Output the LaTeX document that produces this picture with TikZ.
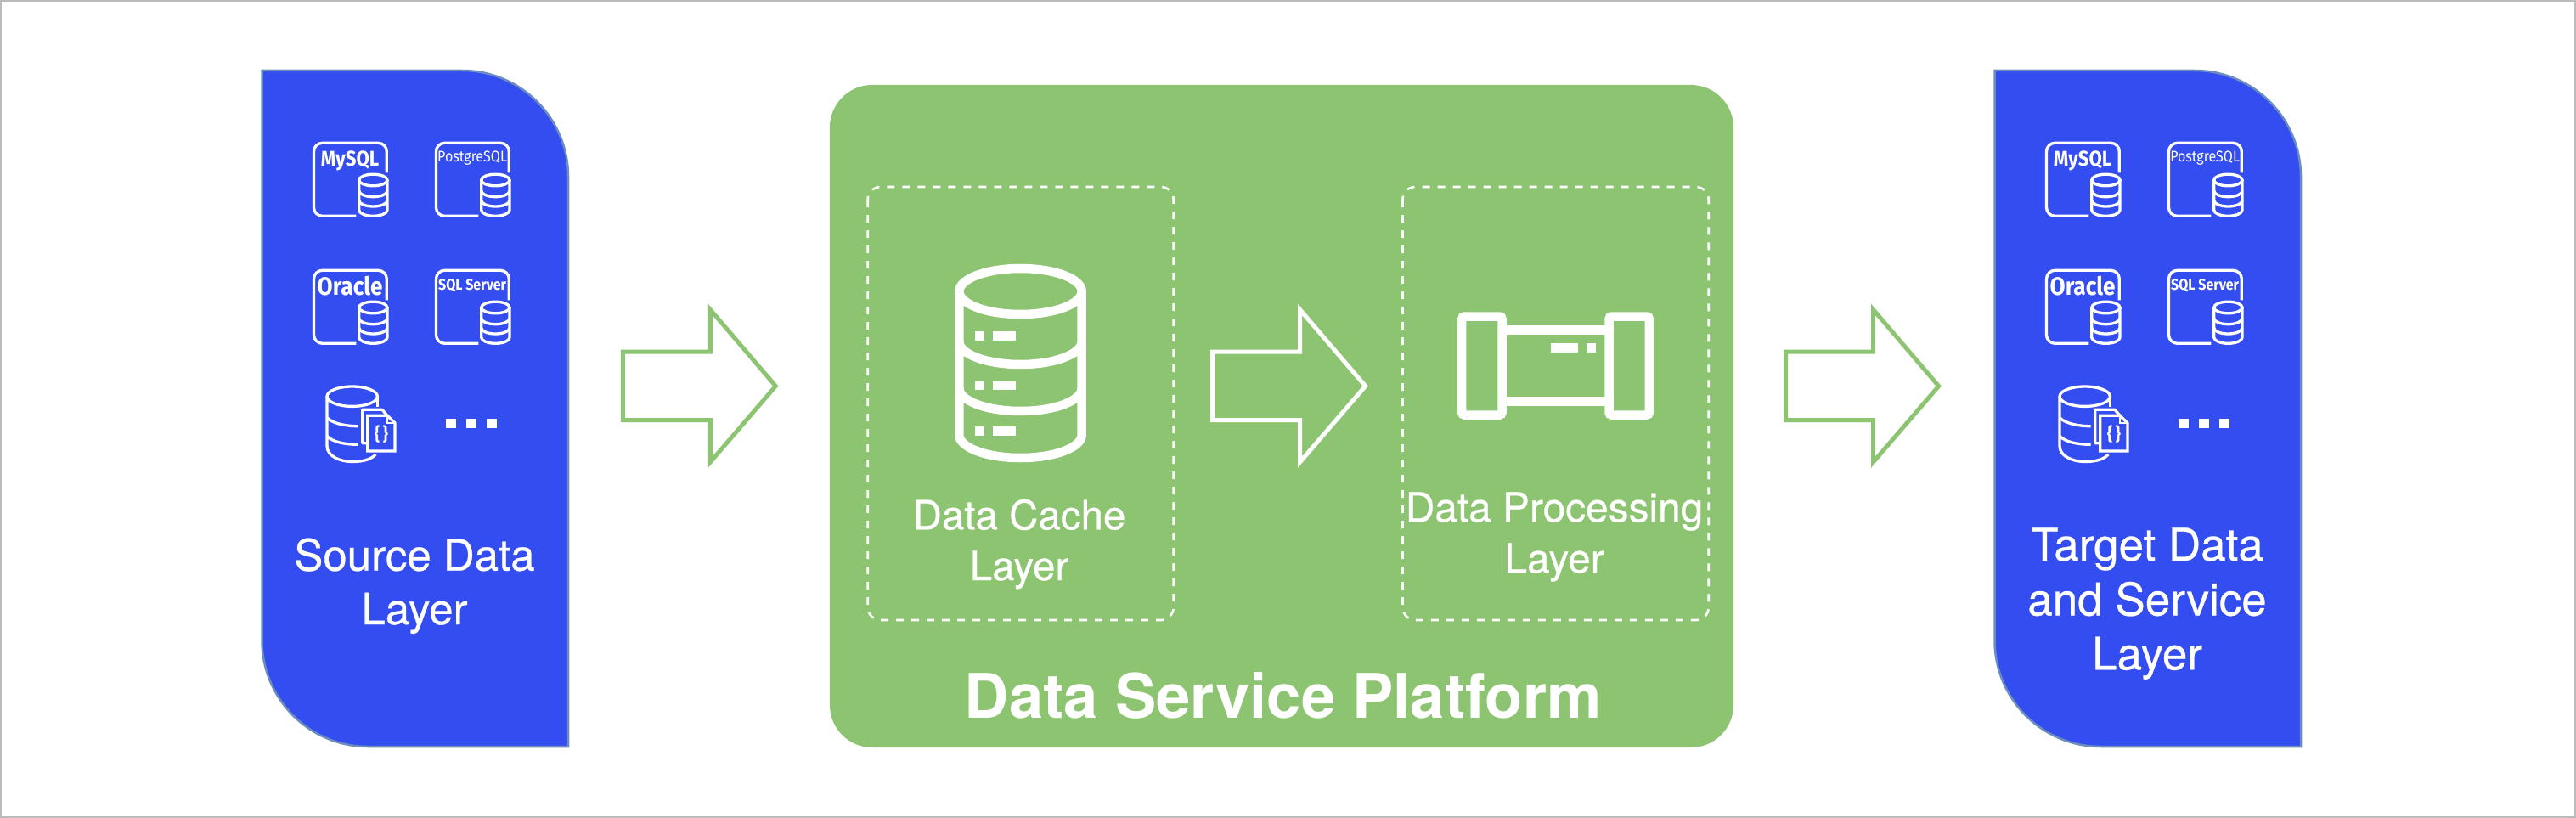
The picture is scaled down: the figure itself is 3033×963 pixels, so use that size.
\documentclass[tikz,border=0pt]{standalone}
\usepackage{fontspec}
\setmainfont[FakeBold=0.5]{TeX Gyre Heros}
\newfontfamily\titlefont{TeX Gyre Heros}
\newfontfamily\firafont[FakeStretch=0.89]{Fira Sans}
\definecolor{panelblue}{HTML}{344DF0}
\definecolor{paneledge}{HTML}{6C8EBF}
\definecolor{platgreen}{HTML}{8DC471}
\definecolor{framegray}{HTML}{BBBBBB}
\tikzset{
  panel/.style={fill=panelblue,draw=paneledge,line width=2.5pt},
  thinicon/.style={draw=white,line width=3.3pt},
  thickicon/.style={draw=white,line width=10.5pt},
  layerbox/.style={draw=white,line width=2.6pt,dash pattern=on 9pt off 9pt,rounded corners=15pt},
  flowarrow/.style={line width=5pt,miter limit=10},
  labeltext/.style={text=white,inner sep=0pt,anchor=base},
  rdstext/.style={text=white,inner sep=0pt,anchor=base,font=\firafont},
}
\newcommand{\rdsicon}[5]{%
  \begin{scope}[shift={(#1,#2)}]
    \draw[thinicon,rounded corners=10pt] (49.8,86) -- (0,86) -- (0,0) -- (85.8,0) -- (85.8,35);
    \draw[thinicon] (69.85,43.7) ellipse [x radius=16.65pt,y radius=6.8pt];
    \draw[thinicon] (53.2,43.7) -- (53.2,79) arc[start angle=180,end angle=360,x radius=16.65pt,y radius=7pt] -- (86.5,43.7);
    \draw[thinicon] (53.2,56.4) arc[start angle=180,end angle=360,x radius=16.65pt,y radius=7pt];
    \draw[thinicon] (53.2,67.7) arc[start angle=180,end angle=360,x radius=16.65pt,y radius=7pt];
    \node[rdstext] (#3) at (42.6,#4) {#5};
  \end{scope}}
\newcommand{\flowarrow}[2]{%
  \draw[flowarrow,draw=#2] (#1,414) -- ++(103,0) -- ++(0,-49.5) -- (#1+180,454.5) -- (#1+103,544) -- ++(0,-49.5) -- (#1,494.5) -- cycle;}
\begin{document}
\begin{tikzpicture}[x=1pt,y=-1pt]
\useasboundingbox (0,0) rectangle (3033,963);
\fill[white] (0,0) rectangle (3033,963);
\draw[framegray,line width=2pt] (1,1) rectangle (3032,962);

% side panels with their database icons
\foreach \dx/\tag in {0/a,2040/b}{
  \begin{scope}[shift={(\dx,0)}]
    \draw[panel] (308.5,83) -- (544,83) arc[start angle=90,end angle=0,radius=125pt] -- (669,879) -- (433.5,879) arc[start angle=270,end angle=180,radius=125pt] -- cycle;
    \rdsicon{369.5}{168.3}{mysql\tag}{27}{\fontsize{25}{25}\selectfont\bfseries MySQL}
    \rdsicon{513.5}{168.3}{postgres\tag}{21.7}{\fontsize{18}{18}\selectfont PostgreSQL}
    \rdsicon{369.5}{318.3}{oracle\tag}{29.4}{\fontsize{29.5}{29.5}\selectfont\bfseries Oracle}
    \rdsicon{513.5}{318.3}{sqlserver\tag}{22.7}{\fontsize{18}{18}\selectfont\bfseries SQL Server}
    % document database icon
    \draw[thinicon] (414.7,466.7) ellipse [x radius=29.7pt,y radius=11.7pt];
    \draw[thinicon] (385,466.7) -- (385,525) .. controls (385,537) and (400,543.5) .. (415,543.5) .. controls (427,543.5) and (437,541) .. (442.3,535);
    \draw[thinicon] (444.4,466.7) -- (444.4,479);
    \draw[thinicon] (385,491.7) .. controls (391,498) and (405,501.7) .. (421.7,501.7);
    \draw[thinicon] (385,513.3) .. controls (391,520) and (405,523.3) .. (421.7,523.3);
    \draw[thinicon,line join=round] (431.5,521.7) -- (426.7,521.7) -- (426.7,482.3) -- (450,482.3) -- (456,489.3);
    \draw[thinicon] (465,531) -- (432.7,531) -- (432.7,489.3) -- (456,489.3) -- (465,498) -- cycle;
    \draw[thinicon,line width=2.6pt] (456,489.3) -- (456,498) -- (465,498);
    \node[rdstext,anchor=center] (braces\tag) at (449,511.5) {\fontsize{21}{21}\selectfont\bfseries \{\,\}};
    % ellipsis squares
    \fill[white] (525,492.7) rectangle (537,504);
    \fill[white] (549,492.7) rectangle (561,504);
    \fill[white] (573,492.7) rectangle (585,504);
  \end{scope}
}
\node[labeltext] (srcA) at (488,671.7) {\fontsize{51}{51}\selectfont Source Data};
\node[labeltext] (srcB) at (488,735) {\fontsize{51}{51}\selectfont Layer};
\node[labeltext] (tgtA) at (2528,660) {\fontsize{53}{53}\selectfont Target Data};
\node[labeltext] (tgtB) at (2528,724.5) {\fontsize{53}{53}\selectfont and Service};
\node[labeltext] (tgtC) at (2528,788.3) {\fontsize{53}{53}\selectfont Layer};

% central platform
\fill[platgreen,rounded corners=50pt] (977,100) rectangle (2041,880);
\draw[layerbox] (1021.7,220) rectangle (1381.7,730);
\draw[layerbox] (1651.5,220) rectangle (2011.7,730);

% cache cylinder
\draw[thickicon] (1201.5,343) ellipse [x radius=72.2pt,y radius=27pt];
\draw[thickicon] (1129.3,343) -- (1129.3,512) arc[start angle=180,end angle=360,x radius=72.2pt,y radius=27pt] -- (1273.7,343);
\draw[thickicon] (1129.3,402) arc[start angle=180,end angle=360,x radius=72.2pt,y radius=27pt];
\draw[thickicon] (1129.3,457) arc[start angle=180,end angle=360,x radius=72.2pt,y radius=27pt];
\foreach \ya/\yb in {390/401,448.7/459.3,502/512.7}{
  \fill[white] (1148,\ya) rectangle (1159,\yb);
  \fill[white] (1169.3,\ya) rectangle (1196.3,\yb);
}

% processing pipe
\draw[thickicon,rounded corners=3pt] (1721.2,372.5) rectangle (1768.5,488.5);
\draw[thickicon,rounded corners=3pt] (1894.5,372.5) rectangle (1941.8,488.5);
\draw[thickicon] (1768.5,388.5) -- (1894.5,388.5);
\draw[thickicon] (1768.5,472.3) -- (1894.5,472.3);
\fill[white] (1826,404) rectangle (1857.7,414.7);
\fill[white] (1868.3,404) rectangle (1879,414.7);

\node[labeltext] (cacheA) at (1200,623.3) {\fontsize{47.5}{47.5}\selectfont Data Cache};
\node[labeltext] (cacheB) at (1200,683) {\fontsize{47.5}{47.5}\selectfont Layer};
\node[labeltext] (procA) at (1830,614.3) {\fontsize{47.8}{47.8}\selectfont Data Processing};
\node[labeltext] (procB) at (1830,674.3) {\fontsize{47.8}{47.8}\selectfont Layer};
\node[labeltext] (platform) at (1510.7,845.7) {\fontsize{72.4}{72.4}\titlefont\selectfont\bfseries Data Service Platform};

% flow arrows
\flowarrow{733.3}{platgreen}
\flowarrow{1427.6}{white}
\flowarrow{2102.6}{platgreen}
\end{tikzpicture}
\end{document}
